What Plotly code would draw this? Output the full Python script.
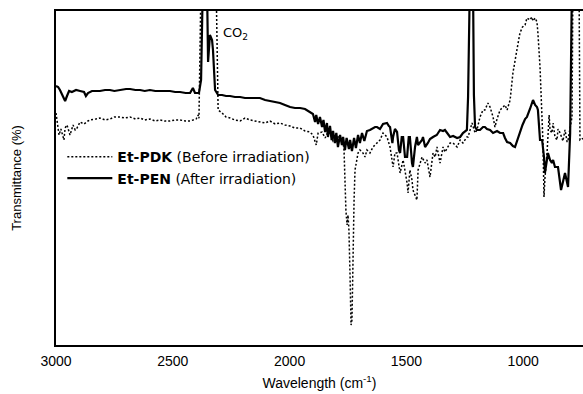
import plotly.graph_objects as go

# Et-PEN (After irradiation) - solid
wn_after = [3000, 2991, 2983, 2970, 2961, 2953, 2944, 2932, 2914, 2897, 2880, 2872, 2863, 2846, 2812,
            2790, 2769, 2750, 2726, 2700, 2683, 2660, 2640, 2620, 2598, 2575, 2555, 2530, 2512, 2490,
            2469, 2445, 2426, 2414, 2405, 2388, 2379, 2371, 2358, 2354, 2349, 2341, 2332, 2328, 2319,
            2306, 2289, 2272, 2255, 2234, 2212, 2191, 2169, 2148, 2127, 2105, 2084, 2062, 2041, 2020,
            1998, 1977, 1955, 1934, 1913, 1900, 1891, 1886, 1878, 1870, 1861, 1855, 1848, 1840, 1836,
            1827, 1820, 1814, 1806, 1800, 1793, 1784, 1776, 1771, 1763, 1756, 1746, 1741, 1733, 1724,
            1716, 1707, 1699, 1690, 1680, 1669, 1656, 1643, 1634, 1626, 1613, 1600, 1583, 1575, 1570,
            1560, 1557, 1549, 1540, 1532, 1527, 1520, 1514, 1506, 1497, 1490, 1485, 1476, 1472, 1463,
            1455, 1450, 1442, 1433, 1429, 1420, 1408, 1399, 1386, 1370, 1356, 1343, 1335, 1326, 1313,
            1300, 1283, 1270, 1258, 1241, 1236, 1228, 1215, 1211, 1206, 1198, 1185, 1172, 1164, 1155,
            1142, 1129, 1112, 1099, 1086, 1078, 1069, 1056, 1044, 1035, 1027, 1014, 1003, 992, 984,
            971, 958, 949, 941, 937, 928, 919, 911, 907, 898, 894, 885, 877, 872, 864,
            851, 838, 821, 808, 799, 791, 744]
t_after = [77.7, 77.4, 76.5, 74.4, 73.2, 74.7, 76.2, 75.9, 76.5, 76.2, 75.9, 74.7, 75.6, 76.2, 76.2,
           76.5, 76.5, 76.2, 76.5, 76.8, 76.8, 76.5, 76.5, 76.2, 76.5, 76.2, 76.2, 76.2, 76.2, 75.9,
           75.9, 75.6, 75.6, 77.1, 75.6, 75.6, 79.5, 110, 110, 110, 84.9, 93.0, 91.5, 88.5, 76.5,
           75.0, 75.0, 74.7, 74.7, 74.4, 74.4, 74.1, 74.1, 74.1, 74.1, 73.5, 73.2, 72.9, 72.6, 72.0,
           71.4, 71.1, 71.1, 70.8, 69.9, 69.3, 66.9, 69.0, 66.3, 68.4, 65.4, 67.5, 63.9, 66.6, 62.4,
           65.7, 61.5, 64.2, 60.6, 63.6, 59.4, 63.0, 60.0, 62.4, 58.5, 62.1, 58.8, 61.5, 58.2, 62.1,
           59.1, 63.0, 60.6, 63.6, 61.2, 64.2, 64.5, 65.1, 65.4, 65.4, 64.8, 66.3, 66.6, 65.7, 65.4,
           60.6, 62.4, 64.8, 63.9, 58.5, 57.6, 62.4, 62.4, 56.4, 56.4, 62.4, 62.4, 54.6, 53.4, 59.4,
           62.4, 60.0, 60.6, 61.5, 62.4, 59.4, 60.6, 61.8, 62.4, 63.0, 64.5, 64.2, 64.5, 63.6, 62.4,
           62.7, 62.1, 62.4, 63.6, 64.5, 74.4, 110, 110, 75.0, 65.4, 64.5, 64.5, 65.4, 65.4, 64.8,
           64.5, 63.6, 64.2, 63.6, 63.6, 62.1, 60.9, 60.6, 59.7, 59.4, 61.2, 63.6, 66.0, 67.8, 68.4,
           70.8, 73.5, 72.0, 71.4, 70.5, 61.5, 61.5, 56.4, 51.6, 55.5, 57.6, 55.5, 54.6, 55.5, 53.4,
           53.4, 46.5, 51.6, 47.4, 63.6, 110, 110]

# Et-PDK (Before irradiation) - dotted
wn_before = [3000, 2987, 2979, 2966, 2961, 2953, 2940, 2927, 2918, 2910, 2897, 2880, 2863, 2854, 2830,
             2812, 2790, 2769, 2750, 2726, 2705, 2683, 2660, 2640, 2620, 2598, 2575, 2555, 2535, 2512,
             2490, 2469, 2445, 2426, 2400, 2392, 2388, 2379, 2315, 2306, 2289, 2272, 2255, 2234, 2212,
             2191, 2169, 2148, 2127, 2105, 2084, 2062, 2041, 2020, 1998, 1977, 1955, 1934, 1913, 1900,
             1886, 1878, 1861, 1848, 1836, 1827, 1814, 1800, 1784, 1776, 1771, 1767, 1759, 1754, 1750,
             1746, 1741, 1737, 1733, 1729, 1724, 1720, 1712, 1707, 1699, 1686, 1677, 1669, 1656, 1643,
             1626, 1613, 1600, 1583, 1570, 1557, 1549, 1540, 1527, 1514, 1497, 1493, 1485, 1476, 1472,
             1459, 1455, 1450, 1433, 1420, 1412, 1399, 1386, 1377, 1369, 1356, 1343, 1335, 1313, 1300,
             1283, 1270, 1258, 1241, 1236, 1219, 1206, 1198, 1185, 1172, 1164, 1151, 1142, 1129, 1121,
             1112, 1099, 1086, 1078, 1069, 1056, 1044, 1035, 1027, 1014, 1003, 992, 984, 971, 963,
             958, 949, 941, 937, 928, 919, 915, 911, 907, 898, 889, 885, 877, 872, 864,
             855, 851, 842, 830, 821, 812, 808, 799, 791, 787, 761, 757, 744]
t_before = [69.6, 63.0, 64.8, 61.5, 65.1, 66.0, 63.0, 66.0, 64.5, 65.1, 66.9, 66.3, 67.2, 67.5, 67.8,
            68.1, 67.5, 67.8, 68.4, 68.4, 68.1, 68.4, 67.8, 68.1, 67.5, 67.8, 67.2, 67.5, 67.2, 67.2,
            67.5, 67.5, 67.2, 67.2, 67.8, 69.0, 68.0, 110, 110, 70.5, 69.6, 68.4, 68.1, 67.5, 67.2,
            68.1, 67.5, 67.2, 66.9, 66.6, 67.2, 66.3, 66.6, 66.0, 65.7, 65.1, 65.1, 64.2, 63.9, 63.0,
            60.0, 63.6, 63.9, 62.1, 63.9, 63.6, 61.2, 62.4, 62.4, 60.6, 60.6, 58.5, 40.5, 36.0, 39.0,
            34.5, 20.0, 6.0, 7.5, 30.0, 43.5, 52.5, 55.5, 57.6, 58.5, 57.6, 56.4, 58.5, 57.6, 59.4,
            60.6, 61.5, 63.6, 62.4, 59.4, 53.4, 57.6, 57.6, 51.6, 55.5, 48.6, 45.6, 52.5, 49.5, 46.5,
            44.1, 43.5, 52.5, 56.4, 54.6, 55.5, 50.4, 57.6, 56.4, 59.4, 54.6, 59.4, 57.9, 60.6, 60.6,
            59.4, 61.5, 60.6, 62.4, 62.4, 66.6, 63.6, 64.5, 68.4, 70.5, 70.5, 72.6, 71.4, 68.4, 65.4,
            67.8, 70.5, 71.4, 72.0, 70.5, 73.5, 81.6, 86.1, 88.5, 93.6, 95.4, 96.0, 98.1, 97.5, 98.4,
            97.2, 98.1, 96.9, 93.6, 83.4, 68.4, 60.0, 44.4, 50.0, 57.6, 69.0, 64.5, 63.6, 66.6, 62.4,
            61.5, 64.8, 63.6, 61.2, 64.5, 60.9, 61.5, 65.4, 68.4, 110, 110, 61.5, 62.0]

x_ticks = [3000, 2500, 2000, 1500, 1000]

fig = go.Figure()
fig.add_trace(go.Scatter(
    x=wn_before, y=t_before, mode="lines",
    name="<b>Et-PDK</b> (Before irradiation)",
    line=dict(color="black", width=1.5, dash="2px,2px"),
))
fig.add_trace(go.Scatter(
    x=wn_after, y=t_after, mode="lines",
    name="<b>Et-PEN</b> (After irradiation)",
    line=dict(color="black", width=2.2),
))

fig.add_annotation(
    x=2292, y=93.6, xref="x", yref="y", text="CO<sub>2</sub>",
    showarrow=False, xanchor="left", yanchor="middle",
    font=dict(family="DejaVu Sans", size=13, color="black"),
)

fig.update_layout(
    width=583, height=394,
    margin=dict(l=56, r=0, t=11, b=49),
    paper_bgcolor="white", plot_bgcolor="white",
    showlegend=True,
    legend=dict(
        x=0.012, y=0.61, xanchor="left", yanchor="top",
        bgcolor="rgba(0,0,0,0)", borderwidth=0,
        font=dict(family="DejaVu Sans", size=14, color="black"),
        tracegroupgap=0, itemwidth=45,
    ),
    font=dict(family="Liberation Sans", size=12, color="black"),
)
fig.update_xaxes(
    range=[3000, 744], autorange=False,
    tickvals=x_ticks, ticktext=[str(v) for v in x_ticks],
    ticks="", showgrid=False, zeroline=False, ticklabelstandoff=2,
    showline=True, linecolor="black", linewidth=1.5, mirror=True,
    tickfont=dict(family="Liberation Sans", size=14, color="black"),
    title=dict(text="Wavelength (cm<sup>-1</sup>)", standoff=11,
               font=dict(family="Liberation Sans", size=14, color="black")),
)
fig.update_yaxes(
    range=[0, 100.2], autorange=False,
    showticklabels=False, ticks="", showgrid=False, zeroline=False,
    showline=True, linecolor="black", linewidth=1.5, mirror=False,
    title=dict(text="Transmittance (%)", standoff=30,
               font=dict(family="Liberation Sans", size=13, color="black")),
)

fig.write_html("out.html")
